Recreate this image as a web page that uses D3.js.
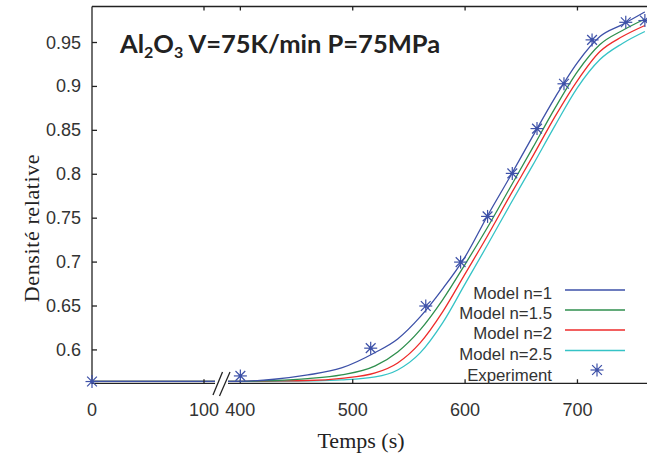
<!DOCTYPE html>
<html><head><meta charset="utf-8">
<script src="https://cdn.jsdelivr.net/npm/d3@7"></script>
<style>body{margin:0;background:#fff}svg{display:block}</style>
</head><body><svg id="c" width="647" height="457"></svg>
<script>
// ---- data ----
const times = [0,100,400,430,460,490,520,540,560,580,600,620,640,660,680,700,720,740,760];
const modelN1  = [0.5643,0.5643,0.5643,0.5666,0.5715,0.5795,0.5971,0.6125,0.6376,0.6695,0.7060,0.7528,0.7972,0.8428,0.8873,0.9272,0.9568,0.9705,0.9848];
const modelN15 = [0.5643,0.5643,0.5643,0.5652,0.5673,0.5715,0.5818,0.5977,0.6228,0.6570,0.6975,0.7397,0.7847,0.8297,0.8753,0.9169,0.9477,0.9637,0.9768];
const modelN2  = [0.5643,0.5643,0.5643,0.5647,0.5652,0.5677,0.5738,0.5852,0.6080,0.6433,0.6866,0.7300,0.7756,0.8200,0.8656,0.9067,0.9397,0.9568,0.9694];
const modelN25 = [0.5643,0.5643,0.5643,0.5643,0.5647,0.5658,0.5692,0.5772,0.5966,0.6308,0.6752,0.7197,0.7653,0.8098,0.8554,0.8987,0.9306,0.9489,0.9625];
const expTimes = [0,400,516,565,596,620,642,664,688,713,743,760];
const expDens  = [0.564,0.5704,0.602,0.650,0.700,0.752,0.801,0.852,0.903,0.953,0.973,0.975];
const seriesNames = ["Model n=1","Model n=1.5","Model n=2","Model n=2.5"];
const seriesColors = ["#3d51a8","#2f8f4e","#ee2b2b","#35c3c6"];
const xTicks = [0,100,400,500,600,700];
const yTicks = [0.6,0.65,0.7,0.75,0.8,0.85,0.9,0.95];
const yTickLabels = ["0.6","0.65","0.7","0.75","0.8","0.85","0.9","0.95"];

// ---- layout ----
const L = 92, R = 647, T = 6.5, B = 383.3;
const breakL = 215, breakR = 228;
const x = d3.scaleLinear().domain([0,110,389,761]).range([L,breakL+0.2,breakR,646]);
const y = d3.scaleLinear().domain([0.562,0.991]).range([B,T]);
const svg = d3.select("#c");
const tickFont = "'Liberation Sans Narrow','Arial Narrow','Liberation Sans',Arial,sans-serif";
const axisCol = "#222";

const defs = svg.append("defs");
defs.append("clipPath").attr("id","cl").append("rect").attr("x",L).attr("y",0).attr("width",breakL-L).attr("height",B);
defs.append("clipPath").attr("id","cr").append("rect").attr("x",breakR).attr("y",0).attr("width",R-breakR).attr("height",B);

// lines
const allSeries = [modelN1, modelN15, modelN2, modelN25];
const line = d3.line().x((d,i)=>x(times[i])).y(d=>y(d)).curve(d3.curveMonotoneX);
["cl","cr"].forEach(cid=>{
  const g = svg.append("g").attr("clip-path",`url(#${cid})`);
  allSeries.slice().reverse().forEach((s,k)=>{
    const idx = allSeries.length-1-k;
    g.append("path").attr("d",line(s)).attr("fill","none")
      .attr("stroke",seriesColors[idx]).attr("stroke-width",1.3);
  });
});

// axes (frame)
const ax = svg.append("g").attr("stroke",axisCol).attr("stroke-width",1.3).attr("fill","none");
ax.append("line").attr("x1",L).attr("x2",L).attr("y1",T).attr("y2",B+0.6);
ax.append("line").attr("x1",L).attr("x2",R).attr("y1",T).attr("y2",T);
ax.append("line").attr("x1",L).attr("x2",breakL).attr("y1",B).attr("y2",B);
ax.append("line").attr("x1",breakR).attr("x2",R).attr("y1",B).attr("y2",B);
// break marks
ax.append("line").attr("x1",213).attr("y1",395).attr("x2",222.5).attr("y2",372);
ax.append("line").attr("x1",219.5).attr("y1",396).attr("x2",230).attr("y2",372);

// x ticks
xTicks.forEach(t=>{
  if(t>0){
    ax.append("line").attr("x1",x(t)).attr("x2",x(t)).attr("y1",B).attr("y2",B-4);
    ax.append("line").attr("x1",x(t)).attr("x2",x(t)).attr("y1",T).attr("y2",T+4);
  }
  svg.append("text").attr("x",x(t)).attr("y",416).attr("text-anchor","middle")
    .attr("font-family",tickFont).attr("font-size",18).attr("fill","#333").text(t);
});
// y ticks
yTicks.forEach((v,i)=>{
  ax.append("line").attr("x1",L).attr("x2",L+5).attr("y1",y(v)).attr("y2",y(v));
  svg.append("text").attr("x",81).attr("y",y(v)+6).attr("text-anchor","end")
    .attr("font-family",tickFont).attr("font-size",18).attr("fill","#333").text(yTickLabels[i]);
});

// star marker
function star(g,cx,cy,r,col){
  const a = g.append("g").attr("stroke",col).attr("stroke-width",1.2);
  a.append("line").attr("x1",cx-r).attr("x2",cx+r).attr("y1",cy).attr("y2",cy);
  a.append("line").attr("x1",cx).attr("x2",cx).attr("y1",cy-r).attr("y2",cy+r);
  const d = r*0.75;
  a.append("line").attr("x1",cx-d).attr("x2",cx+d).attr("y1",cy-d).attr("y2",cy+d);
  a.append("line").attr("x1",cx-d).attr("x2",cx+d).attr("y1",cy+d).attr("y2",cy-d);
  g.append("circle").attr("cx",cx).attr("cy",cy).attr("r",1.8).attr("fill",col);
}
const expCol = "#3d51a8";
const sg = svg.append("g");
expTimes.forEach((t,i)=>star(sg,x(t),y(expDens[i]),6.5,expCol));

// legend
const legY = [293,313,333,353.5];
const legFs = 16.8;
seriesNames.forEach((n,i)=>{
  svg.append("text").attr("x",552).attr("y",legY[i]+6).attr("text-anchor","end")
    .attr("font-family",tickFont).attr("font-size",legFs).attr("fill","#333").text(n);
  svg.append("line").attr("x1",565).attr("x2",625).attr("y1",legY[i]-3).attr("y2",legY[i]-3)
    .attr("stroke",seriesColors[i]).attr("stroke-width",1.5);
});
svg.append("text").attr("x",552).attr("y",375+6).attr("text-anchor","end")
  .attr("font-family",tickFont).attr("font-size",legFs).attr("fill","#333").text("Experiment");
star(svg,597,370,6.5,expCol);

// title
const title = svg.append("text").attr("x",120).attr("y",53)
  .attr("font-family","Lato,'Open Sans',sans-serif").attr("font-weight","bold")
  .attr("font-size",25.5).attr("fill","#222");
title.append("tspan").text("Al");
title.append("tspan").attr("font-size",16).attr("dy",5).text("2");
title.append("tspan").attr("dy",-5).text("O");
title.append("tspan").attr("font-size",16).attr("dy",5).text("3");
title.append("tspan").attr("dy",-5).text(" V=75K/min P=75MPa");

// axis titles
svg.append("text").attr("x",361).attr("y",448).attr("text-anchor","middle")
  .attr("font-family","'Liberation Serif','Times New Roman',serif").attr("font-size",22)
  .attr("fill","#222").text("Temps (s)");
svg.append("text").attr("transform","translate(39,228) rotate(-90)").attr("text-anchor","middle")
  .attr("font-family","'Liberation Serif','Times New Roman',serif").attr("font-size",22)
  .attr("letter-spacing",0.6)
  .attr("fill","#222").text("Densité relative");
</script></body></html>
